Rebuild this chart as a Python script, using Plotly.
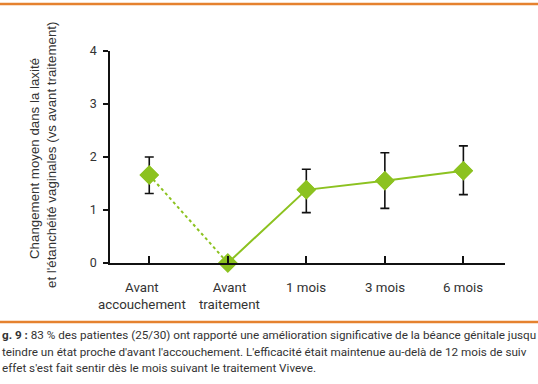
import plotly.graph_objects as go

categories = ["Avant<br>accouchement", "Avant<br>traitement", "1 mois", "3 mois", "6 mois"]
means = [1.66, 0.0, 1.38, 1.55, 1.74]
err_plus = [0.34, 0.0, 0.39, 0.53, 0.47]
err_minus = [0.35, 0.0, 0.43, 0.52, 0.45]
y_ticks = [0, 1, 2, 3, 4]

GREEN = "#8cc220"
ORANGE = "#e5822f"
FONT = "Roboto"
xi = list(range(len(categories)))

fig = go.Figure()
# dashed segment (before accouchement -> before treatment)
fig.add_trace(go.Scatter(x=xi[:2], y=means[:2], mode="lines",
                         line=dict(color=GREEN, width=2, dash="3px,3px"),
                         hoverinfo="skip", showlegend=False, cliponaxis=False))
# solid segment
fig.add_trace(go.Scatter(x=xi[1:], y=means[1:], mode="lines",
                         line=dict(color=GREEN, width=2),
                         hoverinfo="skip", showlegend=False, cliponaxis=False))
# error bars + markers
fig.add_trace(go.Scatter(x=xi, y=means, mode="markers",
                         marker=dict(symbol="diamond", size=15, color=GREEN),
                         error_y=dict(type="data", array=err_plus, arrayminus=err_minus,
                                      color="#111111", thickness=1.6, width=4.5,
                                      visible=True),
                         showlegend=False, cliponaxis=False))
# re-draw markers above error bars
fig.add_trace(go.Scatter(x=xi, y=means, mode="markers",
                         marker=dict(symbol="diamond", size=15, color=GREEN),
                         showlegend=False, cliponaxis=False))

L, R, T, B = 110, 33, 51, 121
W, H = 538, 384
pw, ph = W - L - R, H - T - B

def px(xp):
    return (xp - L) / pw

def py(yp):
    return (H - B - yp) / ph

shapes = [
    dict(type="line", xref="paper", yref="paper", x0=px(0), x1=px(W), y0=py(4), y1=py(4),
         line=dict(color=ORANGE, width=2.5)),
    dict(type="line", xref="paper", yref="paper", x0=px(0), x1=px(W), y0=py(322), y1=py(322),
         line=dict(color=ORANGE, width=2.5)),
]

TITLE_FONT = dict(family="Liberation Sans", size=13.3, color="#333333")
CAP_FONT = dict(family=FONT, size=11.7, color="#333333")
TICK_FONT = dict(family=FONT, size=13.3, color="#333333")

annotations = [
    dict(text="Changement moyen dans la laxité", textangle=-90, xref="paper", yref="paper",
         x=px(34), y=py(159), showarrow=False, xanchor="center", yanchor="middle",
         font=TITLE_FONT),
    dict(text="et l'étanchéité vaginales (vs avant traitement)", textangle=-90, xref="paper", yref="paper",
         x=px(51), y=py(155), showarrow=False, xanchor="center", yanchor="middle",
         font=TITLE_FONT),
    dict(text="<b>g. 9 :</b> 83 % des patientes (25/30) ont rapporté une amélioration significative de la béance génitale jusqu",
         xref="paper", yref="paper", x=px(0), y=py(335), showarrow=False, xanchor="left", yanchor="middle",
         font=CAP_FONT),
    dict(text="teindre un état proche d'avant l'accouchement. L'efficacité était maintenue au-delà de 12 mois de suiv",
         xref="paper", yref="paper", x=px(0), y=py(352), showarrow=False, xanchor="left", yanchor="middle",
         font=CAP_FONT),
    dict(text="effet s'est fait sentir dès le mois suivant le traitement Viveve.",
         xref="paper", yref="paper", x=px(0), y=py(368), showarrow=False, xanchor="left", yanchor="middle",
         font=CAP_FONT),
]

# category labels under the axis (first one sits slightly left of its tick, as in the original)
label_shift = [-7, 2, 0, 0, 0]
for i, lab in enumerate(categories):
    annotations.append(dict(text=lab, xref="x", yref="paper", x=xi[i], y=py(278),
                            xshift=label_shift[i], showarrow=False, xanchor="center",
                            yanchor="top", align="center", font=TICK_FONT))

fig.update_layout(
    width=W, height=H,
    margin=dict(l=L, r=R, t=T, b=B, pad=0),
    paper_bgcolor="white", plot_bgcolor="white",
    font=dict(family=FONT, color="#333333"),
    shapes=shapes, annotations=annotations,
    xaxis=dict(range=[-0.5, 4.53], tickmode="array", tickvals=xi, showticklabels=False,
               showgrid=False, zeroline=False, showline=True, linecolor="#111111", linewidth=1.5,
               ticks="inside", ticklen=7, tickwidth=1.5, tickcolor="#111111"),
    yaxis=dict(range=[0, 4], tickmode="array", tickvals=y_ticks,
               showgrid=False, zeroline=False, showline=True, linecolor="#111111", linewidth=1.5,
               ticks="outside", ticklen=5, tickwidth=1.5, tickcolor="#111111",
               ticklabelstandoff=4,
               tickfont=dict(family=FONT, size=12.5, color="#333333")),
)

fig.write_html("out.html", config={"displayModeBar": False},
               post_script="document.body.style.margin='0';")
